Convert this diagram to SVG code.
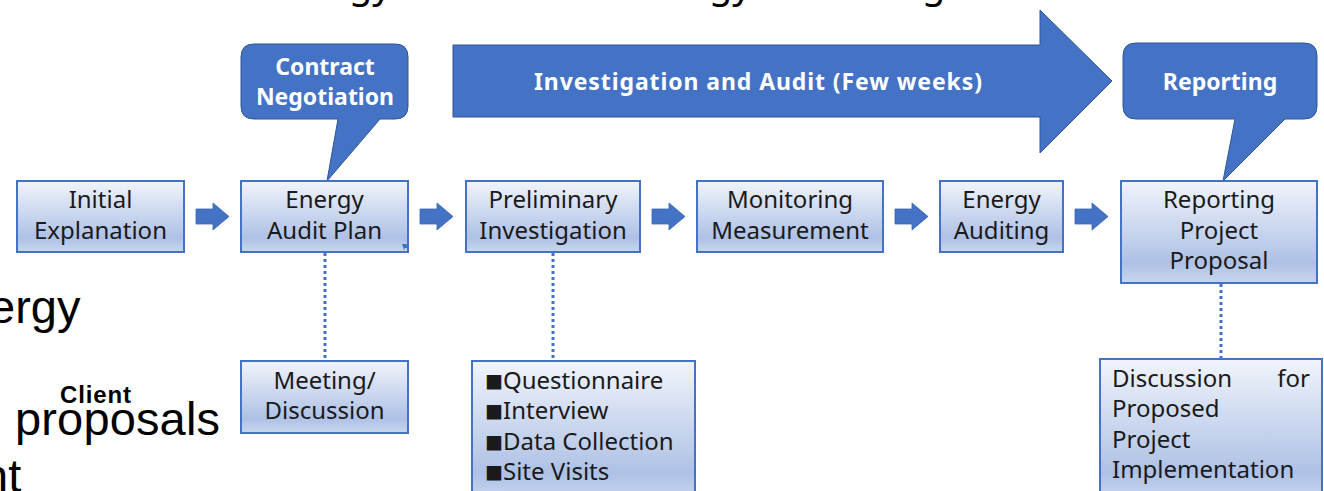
<svg xmlns="http://www.w3.org/2000/svg" width="1324" height="491" viewBox="0 0 1324 491">
<defs>
<linearGradient id="boxg" x1="0" y1="0" x2="0" y2="1">
<stop offset="0" stop-color="#f1f4fb"/>
<stop offset="0.8" stop-color="#aec1e5"/>
<stop offset="1" stop-color="#c8d6ef"/>
</linearGradient>
<path id="blk" d="M0,6 H17 V0 L33,13.5 L17,27 V21 H0 Z"/>
</defs>
<style>
.box{fill:url(#boxg);stroke:#4472c4;stroke-width:2}
.t{font-family:"Noto Sans","Noto Sans CJK JP",sans-serif;font-size:24px;fill:#1a1a1a;text-anchor:middle}
.tl{font-family:"Noto Sans","Noto Sans CJK JP",sans-serif;font-size:24px;fill:#1a1a1a}
.sq{font-size:18px}
.w{font-family:"Noto Sans","Noto Sans CJK JP",sans-serif;font-size:23px;font-weight:bold;fill:#ffffff;text-anchor:middle}
.call{fill:#4472c4;stroke:#2f5597;stroke-width:1}
.bg{font-family:"Liberation Sans",Arial,sans-serif;fill:#000000}
.top{font-family:"Noto Sans",sans-serif;font-size:38px;fill:#000000}
.dot{stroke:#4472c4;stroke-width:3;stroke-dasharray:3 3;fill:none}
.arr{fill:#4472c4;stroke:#3a65b0;stroke-width:0.8}
</style>

<g id="background-text">
<text class="top" x="349" y="-2">gy</text>
<text class="top" x="709" y="-2">gy</text>
<text class="top" x="922" y="-2">g</text>
<text class="bg" x="-11" y="323" font-size="47">ergy</text>
<text class="bg" x="15" y="435" font-size="47" textLength="205">proposals</text>
<text class="bg" x="-18" y="492" font-size="47">nt</text>
<text class="bg" x="60" y="403" font-size="24" font-weight="bold" textLength="71">Client</text>
</g>

<g id="big-arrow">
<path class="call" d="M453,45 H1040 V10 L1112,81 L1040,153 V117 H453 Z"/>
<text class="w" x="758" y="90" textLength="448">Investigation and Audit (Few weeks)</text>
</g>

<g id="callout-contract">
<path class="call" d="M254,44 H395 Q408,44 408,57 V106 Q408,119 395,119 H380 L327,181 L338,119 H254 Q241,119 241,106 V57 Q241,44 254,44 Z"/>
<text class="w" x="325" y="75">Contract</text>
<text class="w" x="325" y="105">Negotiation</text>
</g>

<g id="callout-reporting">
<path class="call" d="M1136,43 H1304 Q1317,43 1317,56 V106 Q1317,119 1304,119 H1285 L1223,181 L1235,119 H1136 Q1123,119 1123,106 V56 Q1123,43 1136,43 Z"/>
<text class="w" x="1220" y="90">Reporting</text>
</g>

<g id="connectors">
<use href="#blk" class="arr" x="196" y="203"/>
<use href="#blk" class="arr" x="420" y="203"/>
<use href="#blk" class="arr" x="652" y="203"/>
<use href="#blk" class="arr" x="895" y="203"/>
<use href="#blk" class="arr" x="1075" y="203"/>
<line class="dot" x1="325" y1="253" x2="325" y2="361"/>
<line class="dot" x1="553" y1="253" x2="553" y2="361"/>
<line class="dot" x1="1221" y1="284" x2="1221" y2="359"/>
</g>

<g id="initial-explanation">
<rect class="box" x="17" y="181" width="167" height="71"/>
<text class="t" x="100.5" y="208">Initial</text>
<text class="t" x="100.5" y="239">Explanation</text>
</g>

<g id="energy-audit-plan">
<rect class="box" x="241" y="181" width="167" height="71"/>
<text class="t" x="324.5" y="208">Energy</text>
<text class="t" x="324.5" y="239">Audit Plan</text>
<path d="M402,244 H408 V248 H405 L404,250 Z" fill="#4472c4"/>
</g>

<g id="preliminary-investigation">
<rect class="box" x="466" y="181" width="174" height="71"/>
<text class="t" x="553" y="208">Preliminary</text>
<text class="t" x="553" y="239">Investigation</text>
</g>

<g id="monitoring-measurement">
<rect class="box" x="697" y="181" width="186" height="71"/>
<text class="t" x="790" y="208">Monitoring</text>
<text class="t" x="790" y="239">Measurement</text>
</g>

<g id="energy-auditing">
<rect class="box" x="940" y="181" width="123" height="71"/>
<text class="t" x="1001.5" y="208">Energy</text>
<text class="t" x="1001.5" y="239">Auditing</text>
</g>

<g id="reporting-project-proposal">
<rect class="box" x="1121" y="181" width="196" height="102"/>
<text class="t" x="1219" y="208">Reporting</text>
<text class="t" x="1219" y="239">Project</text>
<text class="t" x="1219" y="269">Proposal</text>
</g>

<g id="meeting-discussion">
<rect class="box" x="241" y="361" width="167" height="72"/>
<text class="t" x="324.5" y="389">Meeting/</text>
<text class="t" x="324.5" y="419">Discussion</text>
</g>

<g id="investigation-items">
<rect class="box" x="472" y="361" width="223" height="140"/>
<text class="tl" x="485" y="389"><tspan class="sq">■</tspan>Questionnaire</text>
<text class="tl" x="485" y="419"><tspan class="sq">■</tspan>Interview</text>
<text class="tl" x="485" y="450"><tspan class="sq">■</tspan>Data Collection</text>
<text class="tl" x="485" y="480"><tspan class="sq">■</tspan>Site Visits</text>
</g>

<g id="discussion-implementation">
<rect class="box" x="1100" y="359" width="222" height="142"/>
<text class="tl" x="1112" y="387">Discussion</text>
<text class="tl" x="1310" y="387" text-anchor="end">for</text>
<text class="tl" x="1112" y="417">Proposed</text>
<text class="tl" x="1112" y="448">Project</text>
<text class="tl" x="1112" y="478">Implementation</text>
</g>
</svg>
